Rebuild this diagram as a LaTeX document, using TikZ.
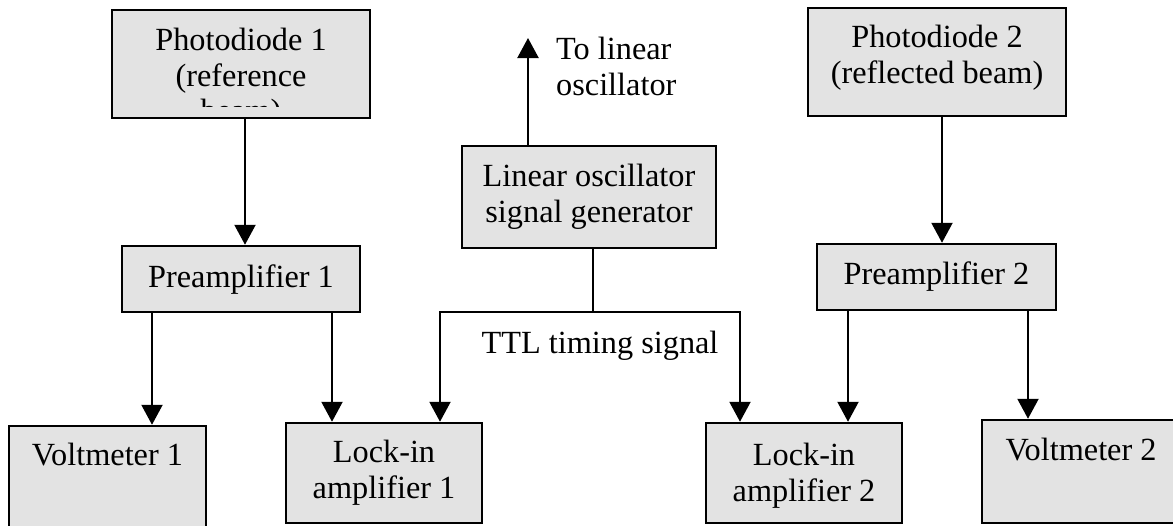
\documentclass[tikz,border=0pt]{standalone}
\usepackage{fontspec}
\setmainfont{Liberation Serif}
\usetikzlibrary{arrows.meta,calc}
\definecolor{boxfill}{RGB}{227,227,227}
\begin{document}
\begin{tikzpicture}[x=1pt,y=-1pt,
  box/.style={draw=black,line width=2.5pt,fill=boxfill,rectangle,inner sep=0pt},
  lbl/.style={font=\fontsize{32.3}{35.5}\selectfont,inner sep=0pt,align=center},
  conn/.style={line width=2.2pt},
  arr/.style={conn,-{Triangle[width=21pt,length=20pt]}}]
\clip (0,0) rectangle (1173,525);
\fill[white] (0,0) rectangle (1173,525);
% boxes
\node[box,minimum width=258pt,minimum height=108pt] (pd1) at (241,64) {};
\node[box,minimum width=258pt,minimum height=108pt] (pd2) at (937,62) {};
\node[box,minimum width=254pt,minimum height=102pt] (osc) at (589,197) {};
\node[box,minimum width=238pt,minimum height=66pt] (pre1) at (241,279) {};
\node[box,minimum width=239pt,minimum height=66pt] (pre2) at (936.5,277) {};
\node[box,minimum width=197pt,minimum height=114pt] (vm1) at (107.5,483) {};
\node[box,minimum width=196pt,minimum height=100pt] (lock1) at (384,473) {};
\node[box,minimum width=196pt,minimum height=100pt] (lock2) at (804,473) {};
\node[box,minimum width=198pt,minimum height=103pt] (vm2) at (1081,471.5) {};
% texts
\begin{scope}
\clip (112,10) rectangle (370,106);
\node[lbl,anchor=north] (pd1t) at (241,28) {Photodiode 1\\(reference\\beam)};
\end{scope}
\node[lbl,anchor=north] (pd2t) at (937,25) {Photodiode 2\\(reflected beam)};
\node[lbl,anchor=north] (osct) at (589,164) {Linear oscillator\\signal generator};
\node[lbl,anchor=base] (pre1t) at (241,287) {Preamplifier 1};
\node[lbl,anchor=base] (pre2t) at (936.5,284) {Preamplifier 2};
\node[lbl,anchor=base] (vm1t) at (107.5,465) {Voltmeter 1};
\node[lbl,anchor=base] (vm2t) at (1081,460) {Voltmeter 2};
\node[lbl,anchor=north] (lock1t) at (384,440) {Lock-in\\amplifier 1};
\node[lbl,anchor=north] (lock2t) at (804,443) {Lock-in\\amplifier 2};
\node[lbl,anchor=north west,align=left] (tolin) at (556,37) {To linear\\oscillator};
\node[lbl,anchor=base] (ttl) at (600,353) {TTL timing signal};
% connectors
\coordinate (up) at (528,38);
\coordinate (j) at (593,312);
\coordinate (tl) at (440,312);
\coordinate (tr) at (740,312);
\draw[arr] (osc.north -| up) -- (up);
\draw[conn] (osc.south -| j) -- (j);
\draw[arr] (j) -- (tl) -- (lock1.north -| tl);
\draw[arr] (j) -- (tr) -- (lock2.north -| tr);
\draw[arr] (pd1.south -| 245,0) -- (pre1.north -| 245,0);
\draw[arr] (pre1.south -| 152,0) -- (vm1.north -| 152,0);
\draw[arr] (pre1.south -| 332,0) -- (lock1.north -| 332,0);
\draw[arr] (pd2.south -| 942,0) -- (pre2.north -| 942,0);
\draw[arr] (pre2.south -| 848,0) -- (lock2.north -| 848,0);
\draw[arr] (pre2.south -| 1028,0) -- (vm2.north -| 1028,0);
\end{tikzpicture}
\end{document}
